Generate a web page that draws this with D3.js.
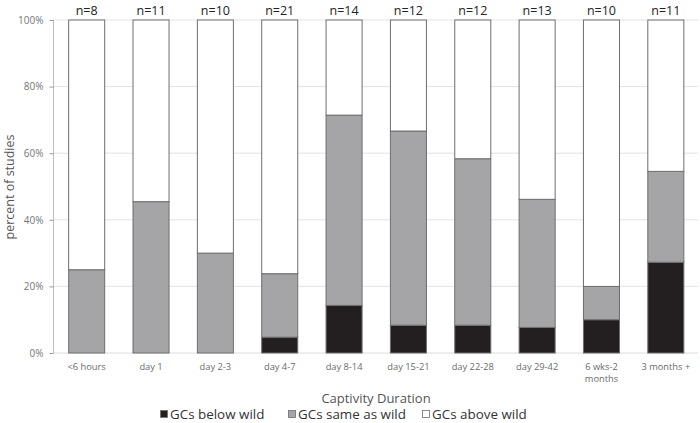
<!DOCTYPE html>
<html><head><meta charset="utf-8">
<script src="https://cdn.jsdelivr.net/npm/d3@7"></script>
<style>body{margin:0;background:#fff;} svg{display:block;font-family:"Open Sans",sans-serif;}</style>
</head><body>
<svg id="c" width="700" height="423"></svg>
<script>
const categories = ["<6 hours","day 1","day 2-3","day 4-7","day 8-14","day 15-21","day 22-28","day 29-42","6 wks-2 months","3 months +"];
const nLabels = ["n=8","n=11","n=10","n=21","n=14","n=12","n=12","n=13","n=10","n=11"];
const below = [0, 0, 0, 4.76, 14.29, 8.33, 8.33, 7.69, 10, 27.27];
const same = [25, 45.45, 30, 19.05, 57.14, 58.33, 50, 38.46, 10, 27.27];
const above = [75, 54.55, 70, 76.19, 28.57, 33.33, 41.67, 53.85, 80, 45.45];
const seriesNames = ["GCs below wild","GCs same as wild","GCs above wild"];
const seriesColors = ["#231f20","#a5a5a7","#ffffff"];
const yTicks = [0,20,40,60,80,100];

const svg = d3.select("#c");
const x = d3.scaleBand().domain(categories).range([54.5,698]).paddingInner(0.44).paddingOuter(0.22);
const y = d3.scaleLinear().domain([0,100]).range([353,20]);

// gridlines
svg.append("g").selectAll("line").data(yTicks.filter(d=>d>0)).join("line")
  .attr("x1",53).attr("x2",698).attr("y1",d=>y(d)).attr("y2",d=>y(d))
  .attr("stroke","#e3e3e3").attr("stroke-width",1);
svg.append("line").attr("x1",53).attr("x2",698).attr("y1",y(0)).attr("y2",y(0)).attr("stroke","#dcdcdc");

const table = categories.map((c,i)=>({cat:c, below:below[i], same:same[i], above:above[i]}));
const stack = d3.stack().keys(["below","same","above"])(table);
svg.append("g").selectAll("g").data(stack).join("g")
  .attr("fill",(d,i)=>seriesColors[i])
  .selectAll("rect").data(d=>d.filter(s=>s[1]-s[0]>0)).join("rect")
  .attr("x",d=>x(d.data.cat)).attr("width",x.bandwidth())
  .attr("y",d=>y(d[1])).attr("height",d=>y(d[0])-y(d[1]))
  .attr("stroke","#6e6e6e").attr("stroke-width",1);

// y axis
const yAxis = d3.axisLeft(y).tickValues(yTicks).tickFormat(d=>d+"%").tickSize(4).tickPadding(6);
const ya = svg.append("g").attr("transform","translate(53.5,0)").call(yAxis);
ya.select(".domain").attr("stroke","#bdbdbd").attr("d","M0,"+y(100)+"V"+y(0));
ya.selectAll(".tick line").attr("stroke","#9a9a9a");
ya.selectAll("text").attr("fill","#757575").style("font-size","10px").style("font-family","Open Sans, sans-serif");

// x axis labels
const xa = svg.append("g");
categories.forEach(c=>{
  const cx = x(c)+x.bandwidth()/2;
  const t = xa.append("text").attr("x",cx).attr("y",370)
    .attr("text-anchor","middle").attr("fill","#6b6b6b").style("font-size","9.3px");
  if(c==="6 wks-2 months"){
    t.append("tspan").attr("x",cx).text("6 wks-2");
    t.append("tspan").attr("x",cx).attr("dy",12).text("months");
  } else t.text(c);
});

// n labels
svg.append("g").selectAll("text").data(categories).join("text")
  .attr("x",d=>x(d)+x.bandwidth()/2).attr("y",15).attr("text-anchor","middle")
  .attr("fill","#222").style("font-size","12.5px").text((d,i)=>nLabels[i]);

// axis titles
svg.append("text").attr("x",376).attr("y",403).attr("text-anchor","middle")
  .attr("fill","#555").style("font-size","13px").text("Captivity Duration");
svg.append("text").attr("transform","translate(14,187) rotate(-90)").attr("text-anchor","middle")
  .attr("fill","#555").style("font-size","12.5px").text("percent of studies");

// legend
const legX = [160,288,422];
const lg = svg.append("g");
seriesNames.forEach((s,i)=>{
  lg.append("rect").attr("x",legX[i]+0.5).attr("y",410.5).attr("width",7).attr("height",7)
    .attr("fill",seriesColors[i]).attr("stroke","#6e6e6e").attr("stroke-width",0.8);
  lg.append("text").attr("x",legX[i]+10).attr("y",419).attr("fill","#333")
    .style("font-size","13.4px").text(s);
});
</script>
</body></html>
